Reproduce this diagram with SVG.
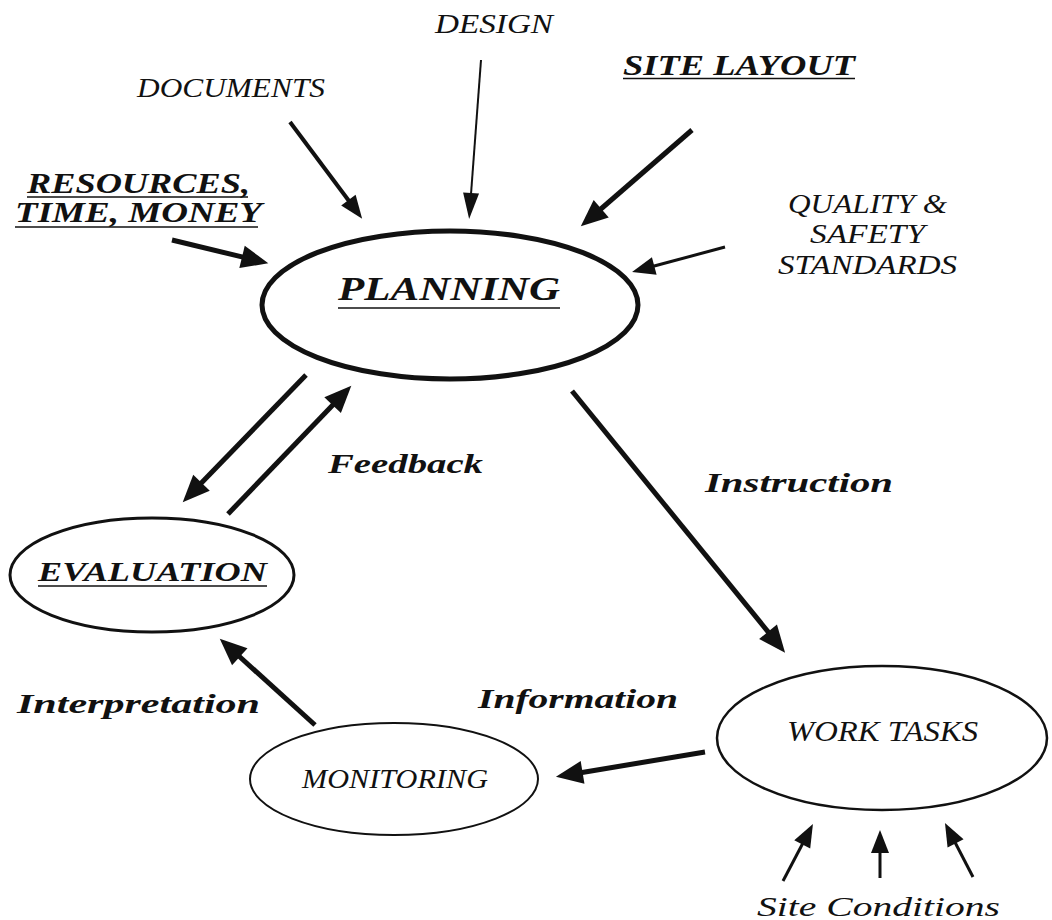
<svg xmlns="http://www.w3.org/2000/svg" width="1052" height="920" viewBox="0 0 1052 920">
<defs>
<style>
.t{font-family:"Liberation Serif","Times New Roman",serif;font-style:italic;fill:#111}
.b{font-weight:bold}
.ul{stroke:#111;stroke-width:1.6}
.node{fill:none;stroke:#111}
.c{stroke:#111;fill:none;stroke-linecap:butt}
</style>
<marker id="hA" markerUnits="userSpaceOnUse" markerWidth="30" markerHeight="24" refX="2" refY="11.5" orient="auto" overflow="visible">
<path d="M0,0 L27,11.5 L0,23 z" fill="#111"/>
</marker>
<marker id="hB" markerUnits="userSpaceOnUse" markerWidth="30" markerHeight="18" refX="1" refY="8" orient="auto" overflow="visible">
<path d="M0,0 L26,8 L0,16 z" fill="#111"/>
</marker>
<marker id="hC" markerUnits="userSpaceOnUse" markerWidth="26" markerHeight="20" refX="1" refY="9" orient="auto" overflow="visible">
<path d="M0,0 L23,9 L0,18 z" fill="#111"/>
</marker>
</defs>
<rect width="1052" height="920" fill="#fff"/>

<g id="connectors">
<line class="c" x1="290" y1="122" x2="349" y2="201" stroke-width="4" marker-end="url(#hC)"/>
<line class="c" x1="481" y1="60" x2="471" y2="194" stroke-width="2" marker-end="url(#hB)"/>
<line class="c" x1="172" y1="240" x2="244" y2="257.4" stroke-width="5" marker-end="url(#hA)"/>
<line class="c" x1="692" y1="130" x2="599.7" y2="210" stroke-width="5" marker-end="url(#hA)"/>
<line class="c" x1="725" y1="247" x2="653.3" y2="266.3" stroke-width="3" marker-end="url(#hC)"/>
<line class="c" x1="306" y1="375" x2="200.1" y2="484.3" stroke-width="5" marker-end="url(#hA)"/>
<line class="c" x1="228" y1="514" x2="334" y2="403.7" stroke-width="5" marker-end="url(#hA)"/>
<line class="c" x1="572" y1="391" x2="769.3" y2="633.3" stroke-width="5" marker-end="url(#hA)"/>
<line class="c" x1="315" y1="725" x2="238.3" y2="655.5" stroke-width="5" marker-end="url(#hA)"/>
<line class="c" x1="705" y1="752" x2="580.6" y2="772.7" stroke-width="5" marker-end="url(#hA)"/>
<line class="c" x1="783" y1="881" x2="802.7" y2="843.5" stroke-width="3" marker-end="url(#hC)"/>
<line class="c" x1="880" y1="878" x2="880" y2="852" stroke-width="3" marker-end="url(#hC)"/>
<line class="c" x1="973" y1="877" x2="955.1" y2="842.5" stroke-width="3" marker-end="url(#hC)"/>
</g>

<g id="labels">
<text class="t" x="435" y="33" font-size="27" textLength="118" lengthAdjust="spacingAndGlyphs">DESIGN</text>
<text class="t" x="137" y="97" font-size="27" textLength="188" lengthAdjust="spacingAndGlyphs">DOCUMENTS</text>
<g id="site-layout">
<text class="t b" x="623" y="75" font-size="29" textLength="232" lengthAdjust="spacingAndGlyphs">SITE LAYOUT</text>
<line class="ul" x1="623" y1="78.5" x2="855" y2="78.5"/>
</g>
<g id="resources">
<text class="t b" x="27" y="193" font-size="29" textLength="223" lengthAdjust="spacingAndGlyphs">RESOURCES,</text>
<line class="ul" x1="27" y1="197" x2="248" y2="197"/>
<text class="t b" x="15" y="222" font-size="29" textLength="247" lengthAdjust="spacingAndGlyphs">TIME, MONEY</text>
<line class="ul" x1="15" y1="227" x2="258" y2="227"/>
</g>
<g id="quality">
<text class="t" x="788" y="213" font-size="27" textLength="159" lengthAdjust="spacingAndGlyphs">QUALITY &amp;</text>
<text class="t" x="810" y="243" font-size="27" textLength="115" lengthAdjust="spacingAndGlyphs">SAFETY</text>
<text class="t" x="778" y="274" font-size="27" textLength="179" lengthAdjust="spacingAndGlyphs">STANDARDS</text>
</g>
<text class="t b" x="328" y="473" font-size="28" textLength="155" lengthAdjust="spacingAndGlyphs">Feedback</text>
<text class="t b" x="705" y="492" font-size="28" textLength="188" lengthAdjust="spacingAndGlyphs">Instruction</text>
<text class="t b" x="17" y="713" font-size="28" textLength="243" lengthAdjust="spacingAndGlyphs">Interpretation</text>
<text class="t b" x="478" y="708" font-size="28" textLength="200" lengthAdjust="spacingAndGlyphs">Information</text>
<text class="t" x="757" y="916" font-size="28" textLength="243" lengthAdjust="spacingAndGlyphs">Site Conditions</text>
</g>

<g id="planning">
<ellipse class="node" cx="450" cy="305" rx="188" ry="74" stroke-width="5"/>
<text class="t b" x="338" y="300" font-size="33" textLength="222" lengthAdjust="spacingAndGlyphs">PLANNING</text>
<line class="ul" x1="338" y1="308" x2="560" y2="308"/>
</g>
<g id="evaluation">
<ellipse class="node" cx="152" cy="575" rx="142" ry="57" stroke-width="3"/>
<text class="t b" x="38" y="581" font-size="28" textLength="229" lengthAdjust="spacingAndGlyphs">EVALUATION</text>
<line class="ul" x1="38" y1="586" x2="267" y2="586"/>
</g>
<g id="monitoring">
<ellipse class="node" cx="394" cy="779" rx="144" ry="56" stroke-width="2"/>
<text class="t" x="302" y="788" font-size="27" textLength="186" lengthAdjust="spacingAndGlyphs">MONITORING</text>
</g>
<g id="work-tasks">
<ellipse class="node" cx="882" cy="738" rx="165" ry="72" stroke-width="2.5"/>
<text class="t" x="787" y="741" font-size="29" textLength="191" lengthAdjust="spacingAndGlyphs">WORK TASKS</text>
</g>
</svg>
